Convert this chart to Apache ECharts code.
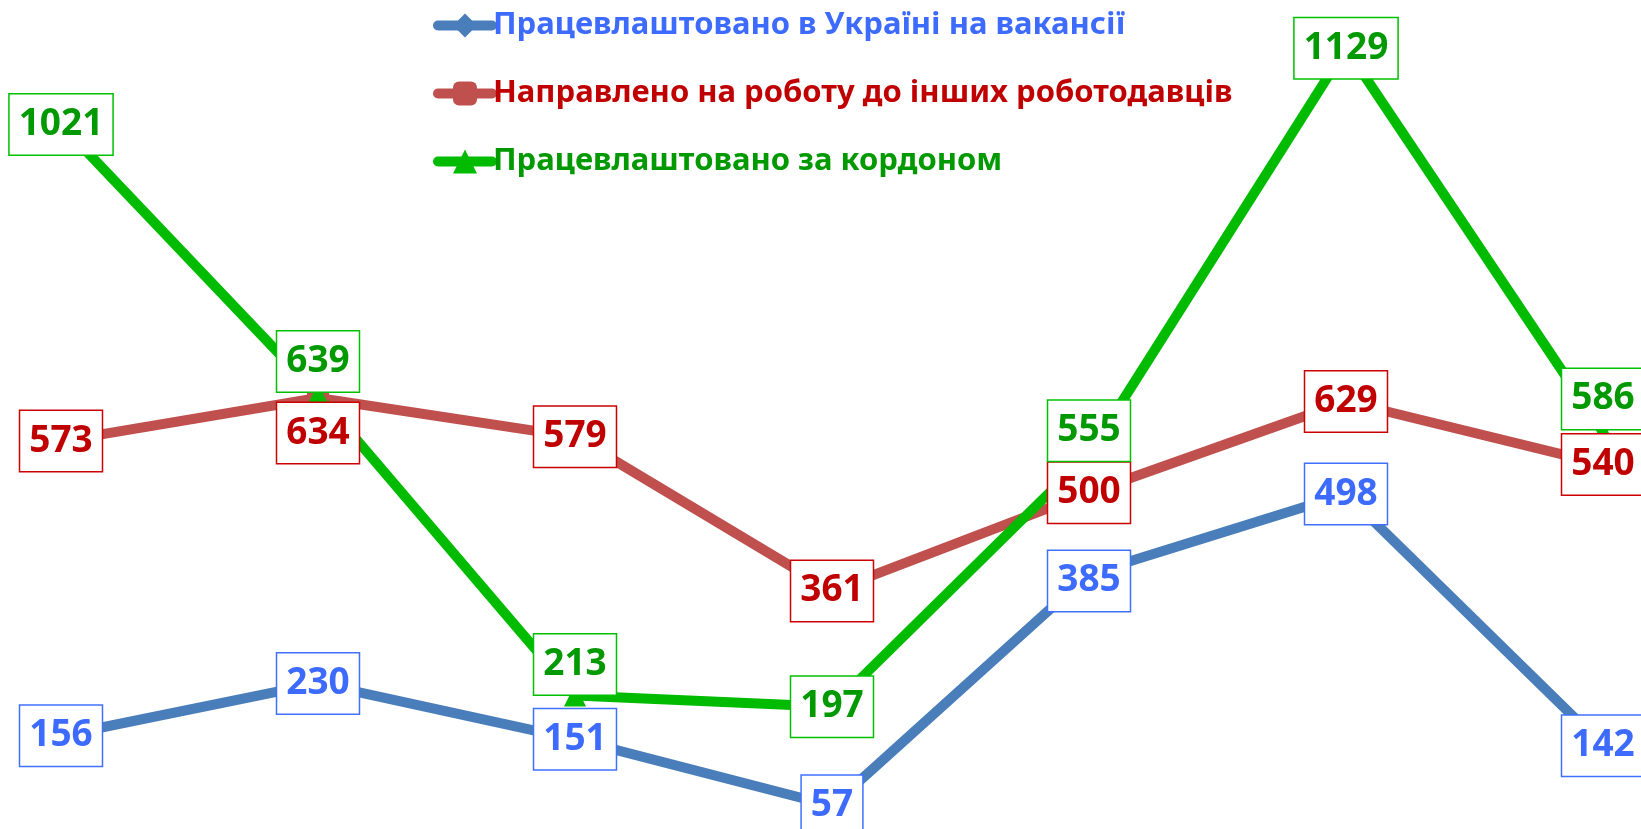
<!DOCTYPE html>
<html>
<head>
<meta charset="utf-8">
<script src="https://cdn.jsdelivr.net/npm/echarts@6/dist/echarts.min.js"></script>
<style>
html,body{margin:0;padding:0;background:#fff;}
#main{width:1641px;height:829px;}
</style>
</head>
<body>
<div id="main"></div>
<script>
// categories (no axis labels shown in the picture)
var categories = ['1', '2', '3', '4', '5', '6', '7'];
var seriesNames = ['Працевлаштовано в Україні на вакансії', 'Направлено на роботу до інших роботодавців', 'Працевлаштовано за кордоном'];
var ukraine = [156, 230, 151, 57, 385, 498, 142];
var directed = [573, 634, 579, 361, 500, 629, 540];
var abroad = [1021, 639, 213, 197, 555, 1129, 586];

// labels moved off the point where boxes would overlap (seriesIndex -> dataIndex -> dy)
var labelShift = {
	0: {4: 7},
	1: {1: 35},
	2: {1: -33, 2: -31, 4: -23, 6: -33}
};

var lineColors = ['#4a7ebb', '#c0504d', '#00bb00'];
var textColors = ['#3d6bff', '#c00000', '#009900'];
var borderColors = ['#4070ff', '#cc0000', '#00c000'];
var symbols = ['diamond', 'roundRect', 'triangle'];

var allValues = [ukraine, directed, abroad];
var series = [];
var legendData = [];
for (var s=0; s<3; s++) {
	series.push({
		name: seriesNames[s],
		type: 'line',
		data: allValues[s],
		symbol: symbols[s],
		symbolSize: 22,
		lineStyle: {width: 10, color: lineColors[s], cap: 'round', join: 'round'},
		itemStyle: {color: lineColors[s]},
		label: {
			show: true,
			position: 'inside',
			color: textColors[s],
			fontFamily: 'Noto Sans',
			fontWeight: 'bold',
			fontSize: 37,
			lineHeight: 40,
			backgroundColor: '#fff',
			borderColor: borderColors[s],
			borderWidth: 1.5,
			padding: [10, 9, 10, 9]
		},
		labelLayout: function(params){
			var sh = labelShift[params.seriesIndex];
			if (sh && sh[params.dataIndex]) {
				return {dy: sh[params.dataIndex]};
			}
			return {};
		},
		emphasis: {disabled: true},
		animation: false
	});
	legendData.push({name: seriesNames[s], textStyle: {color: textColors[s]}});
}

var myChart = echarts.init(document.getElementById('main'));
var option = {
	animation: false,
	legend: {
		orient: 'vertical',
		left: 428,
		top: 5,
		itemWidth: 54,
		itemHeight: 30,
		itemGap: 37,
		data: legendData,
		lineStyle: {width: 10, cap: 'round'},
		textStyle: {fontFamily: 'Noto Sans', fontWeight: 'bold', fontSize: 31, padding: [0, 0, 0, -4]}
	},
	grid: {left: 61, right: 38, top: -2, height: 848, outerBoundsMode: 'none', containLabel: false},
	xAxis: {type: 'category', data: categories, boundaryGap: false, show: false},
	yAxis: {type: 'value', min: 0, max: 1200, show: false, splitLine: {show: false}},
	series: series
};
myChart.setOption(option);
</script>
</body>
</html>
